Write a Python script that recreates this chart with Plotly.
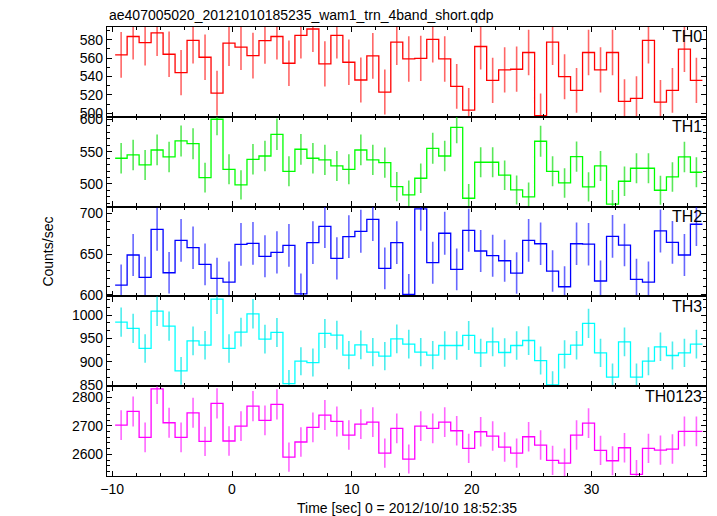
import plotly.graph_objects as go
from plotly.subplots import make_subplots

# Bin centres (s), 1-s bins
time_sec = [-9.25, -8.25, -7.25, -6.25, -5.25, -4.25, -3.25, -2.25, -1.25, -0.25,
            0.75, 1.75, 2.75, 3.75, 4.75, 5.75, 6.75, 7.75, 8.75, 9.75,
            10.75, 11.75, 12.75, 13.75, 14.75, 15.75, 16.75, 17.75, 18.75, 19.75,
            20.75, 21.75, 22.75, 23.75, 24.75, 25.75, 26.75, 27.75, 28.75, 29.75,
            30.75, 31.75, 32.75, 33.75, 34.75, 35.75, 36.75, 37.75, 38.75]
bin_half_width = 0.5

th0 = [563.6, 583.6, 577.0, 587.6, 564.3, 544.3, 579.3, 561.0, 522.0, 576.4,
       572.0, 562.8, 579.0, 583.6, 554.5, 584.7, 591.7, 553.8, 584.7, 555.6,
       536.3, 562.5, 523.2, 577.5, 559.2, 559.8, 580.4, 559.2, 529.4, 503.5,
       572.7, 535.9, 547.2, 548.0, 566.2, 497.5, 577.4, 539.9, 525.0, 566.2,
       547.2, 566.2, 513.0, 516.3, 579.3, 512.2, 525.0, 569.8, 535.9]
th0_err = [24.8, 25.0, 24.9, 25.1, 24.8, 24.6, 25.0, 24.8, 24.4, 24.9,
           24.9, 24.8, 25.0, 25.0, 24.7, 25.1, 25.1, 24.7, 25.1, 24.7,
           24.5, 24.8, 24.4, 24.9, 24.7, 24.7, 25.0, 24.7, 24.4, 24.1,
           24.9, 24.5, 24.6, 24.6, 24.8, 24.0, 24.9, 24.5, 24.3, 24.8,
           24.6, 24.8, 24.2, 24.2, 25.0, 24.2, 24.3, 24.9, 24.5]

th1 = [539.8, 544.9, 529.4, 552.6, 541.8, 566.6, 562.4, 509.8, 600.2, 522.7,
       498.5, 538.2, 543.3, 576.9, 519.6, 553.7, 539.8, 537.2, 527.9, 522.7,
       552.6, 537.2, 533.0, 495.8, 483.0, 508.8, 555.2, 543.3, 587.7, 477.8,
       533.6, 533.6, 513.5, 490.7, 479.9, 566.1, 519.6, 501.5, 542.3, 495.4,
       527.9, 468.6, 504.2, 524.3, 524.3, 490.2, 510.8, 541.8, 518.1]
th1_err = [23.5, 23.6, 23.3, 23.8, 23.5, 24.1, 24.0, 22.9, 24.8, 23.2,
           22.6, 23.5, 23.6, 24.3, 23.1, 23.8, 23.5, 23.5, 23.3, 23.2,
           23.8, 23.5, 23.4, 22.6, 22.3, 22.9, 23.9, 23.6, 24.5, 22.2,
           23.4, 23.4, 23.0, 22.5, 22.3, 24.1, 23.1, 22.7, 23.6, 22.6,
           23.3, 21.9, 22.8, 23.2, 23.2, 22.5, 22.9, 23.5, 23.1]

th2 = [612.0, 648.8, 621.4, 680.2, 627.1, 666.8, 657.8, 637.4, 620.2, 615.7,
       661.8, 663.1, 647.2, 652.0, 660.6, 601.4, 663.9, 683.9, 644.7, 671.2,
       677.8, 692.5, 632.5, 663.9, 600.6, 705.1, 639.4, 675.4, 631.2, 679.0,
       653.7, 648.0, 641.8, 626.7, 666.8, 662.6, 629.2, 610.0, 662.6, 662.0,
       617.0, 671.6, 661.0, 619.0, 615.7, 678.2, 664.3, 648.8, 686.4]
th2_err = [25.2, 25.8, 25.3, 26.3, 25.4, 26.1, 26.0, 25.6, 25.3, 25.2,
           26.0, 26.1, 25.7, 25.8, 26.0, 24.9, 26.1, 26.4, 25.7, 26.2,
           26.3, 26.5, 25.5, 26.1, 24.9, 26.7, 25.7, 26.3, 25.5, 26.3,
           25.8, 25.7, 25.6, 25.4, 26.1, 26.0, 25.4, 25.0, 26.0, 26.0,
           25.2, 26.2, 26.0, 25.3, 25.2, 26.3, 26.1, 25.8, 26.5]

th3 = [985.2, 971.7, 928.8, 1008.8, 976.6, 880.7, 945.1, 935.8, 1034.6, 928.8,
       963.7, 1003.0, 948.7, 963.1, 853.6, 901.5, 898.6, 960.9, 957.3, 914.4,
       936.5, 920.8, 912.2, 949.4, 938.0, 920.8, 914.4, 935.1, 935.1, 956.6,
       919.3, 942.9, 920.1, 935.1, 945.8, 902.9, 850.6, 915.9, 935.8, 982.4,
       919.3, 867.2, 942.9, 867.2, 901.5, 932.2, 913.7, 919.3, 938.0]
th3_err = [31.4, 31.2, 30.5, 31.8, 31.3, 29.7, 30.7, 30.6, 32.2, 30.5,
           31.0, 31.7, 30.8, 31.0, 29.2, 30.0, 30.0, 31.0, 30.9, 30.2,
           30.6, 30.3, 30.2, 30.8, 30.6, 30.3, 30.2, 30.6, 30.6, 30.9,
           30.3, 30.7, 30.3, 30.6, 30.8, 30.0, 29.2, 30.3, 30.6, 31.3,
           30.3, 29.4, 30.7, 29.4, 30.0, 30.5, 30.2, 30.3, 30.6]

th0123 = [2702.4, 2750.0, 2659.6, 2828.9, 2710.5, 2659.6, 2745.3, 2645.6, 2778.0, 2646.8,
          2699.0, 2768.6, 2718.8, 2774.5, 2590.9, 2643.3, 2694.4, 2737.3, 2715.1, 2667.6,
          2706.0, 2712.9, 2604.9, 2691.0, 2584.0, 2699.0, 2691.0, 2712.9, 2682.6, 2621.2,
          2679.1, 2664.1, 2625.8, 2604.9, 2661.7, 2632.8, 2579.4, 2570.0, 2667.6, 2709.4,
          2614.3, 2578.0, 2623.4, 2530.7, 2621.2, 2615.3, 2618.8, 2680.5, 2680.5]
th0123_err = [52.0, 52.4, 51.6, 53.2, 52.1, 51.6, 52.4, 51.4, 52.7, 51.4,
              52.0, 52.6, 52.1, 52.7, 50.9, 51.4, 51.9, 52.3, 52.1, 51.6,
              52.0, 52.1, 51.0, 51.9, 50.8, 52.0, 51.9, 52.1, 51.8, 51.2,
              51.8, 51.6, 51.2, 51.0, 51.6, 51.3, 50.8, 50.7, 51.6, 52.1,
              51.1, 50.8, 51.2, 50.3, 51.2, 51.1, 51.2, 51.8, 51.8]

panel_names = ["TH0", "TH1", "TH2", "TH3", "TH0123"]
panel_values = [th0, th1, th2, th3, th0123]
panel_errors = [th0_err, th1_err, th2_err, th3_err, th0123_err]
panel_colors = ["#ff0000", "#00ff00", "#0000ff", "#00ffff", "#ff00ff"]
panel_err_colors = ["rgba(255,0,0,0.6)", "rgba(0,220,0,0.65)", "rgba(0,0,255,0.6)",
                    "rgba(0,230,230,0.7)", "rgba(255,0,255,0.6)"]
y_ranges = [[496.3, 593.9], [464.9, 604.0], [598.2, 708.0], [847.9, 1040.3], [2524.8, 2838.0]]
y_dticks = [20, 50, 50, 50, 100]
y_minor = [10, 10, 10, 50 / 3, 20]
x_range = [-10.43, 39.55]

title_text = "ae407005020_20121010185235_wam1_trn_4band_short.qdp"
x_title = "Time [sec] 0 = 2012/10/10 18:52:35"
y_title = "Counts/sec"

FONT = "Liberation Sans, Arial, Helvetica, sans-serif"

fig = make_subplots(rows=5, cols=1, shared_xaxes=True, vertical_spacing=0)

for i in range(5):
    r = i + 1
    vals = panel_values[i]
    # step outline built from bin edges
    xs = [t - bin_half_width for t in time_sec] + [time_sec[-1] + bin_half_width]
    ys = list(vals) + [vals[-1]]
    fig.add_trace(go.Scatter(x=xs, y=ys, mode="lines", line_shape="hv",
                             line=dict(color=panel_colors[i], width=1.3),
                             hoverinfo="skip", showlegend=False), row=r, col=1)
    fig.add_trace(go.Scatter(x=time_sec, y=vals, mode="markers",
                             marker=dict(size=1, color="rgba(0,0,0,0)"),
                             error_y=dict(type="data", array=panel_errors[i], visible=True,
                                          color=panel_err_colors[i], thickness=1.6, width=0),
                             showlegend=False), row=r, col=1)
    fig.update_yaxes(row=r, col=1, range=y_ranges[i], dtick=y_dticks[i], tick0=0,
                     showline=True, linecolor="black", linewidth=1.3, mirror="ticks",
                     ticks="inside", ticklen=5, tickcolor="black", tickwidth=1,
                     minor=dict(ticks="inside", ticklen=3, dtick=y_minor[i], tick0=0,
                                tickcolor="black", showgrid=False),
                     showgrid=False, zeroline=False,
                     tickfont=dict(family=FONT, size=14, color="black"))
    fig.update_xaxes(row=r, col=1, range=x_range, dtick=10, tick0=0,
                     showline=True, linecolor="black", linewidth=1.3, mirror="ticks",
                     ticks="inside", ticklen=5, tickcolor="black", tickwidth=1,
                     minor=dict(ticks="inside", ticklen=3, dtick=2, tick0=0,
                                tickcolor="black", showgrid=False),
                     showgrid=False, zeroline=False, showticklabels=(r == 5),
                     tickfont=dict(family=FONT, size=14, color="black"))
    yref = "y domain" if r == 1 else f"y{r} domain"
    xref = "x domain" if r == 1 else f"x{r} domain"
    fig.add_annotation(text=panel_names[i], xref=xref, yref=yref, x=0.996, y=0.89,
                       xanchor="right", yanchor="middle", showarrow=False,
                       font=dict(family=FONT, size=16, color="black"))

fig.add_annotation(text=title_text, xref="paper", yref="paper", x=0.0, y=1.027,
                   xanchor="left", yanchor="middle", showarrow=False,
                   font=dict(family=FONT, size=14, color="black"))
fig.add_annotation(text=x_title, xref="paper", yref="paper", x=0.5, y=-0.071,
                   xanchor="center", yanchor="middle", showarrow=False,
                   font=dict(family=FONT, size=14, color="black"))
fig.add_annotation(text=y_title, xref="paper", yref="paper", x=-0.1, y=0.5,
                   xanchor="center", yanchor="middle", textangle=-90, showarrow=False,
                   font=dict(family=FONT, size=14, color="black"))

# page body adds an 8 px offset, so the figure is drawn 8 px smaller
fig.update_layout(width=709, height=508, margin=dict(l=99, r=11, t=19, b=40),
                  paper_bgcolor="white", plot_bgcolor="white", showlegend=False)

fig.write_html("out.html")
